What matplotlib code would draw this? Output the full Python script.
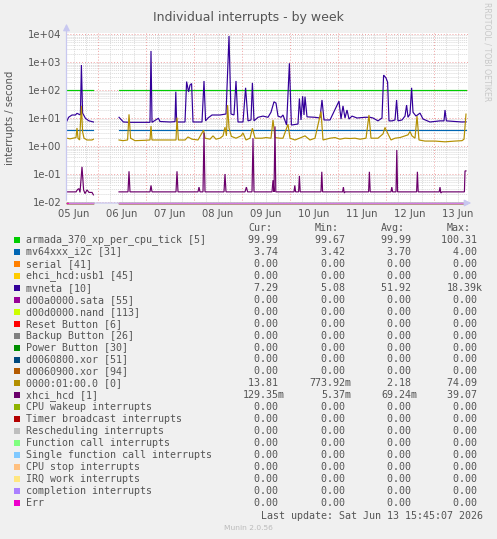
import numpy as np
import matplotlib
matplotlib.use('Agg')
import matplotlib.pyplot as plt
from matplotlib.patches import Rectangle

NaN = float('nan')

# ---------------- data (time in hours since 05 Jun 00:00) ----------------
title = "Individual interrupts - by week"
ylabel = "interrupts / second"
day_labels = ["05 Jun", "06 Jun", "07 Jun", "08 Jun", "09 Jun", "10 Jun", "11 Jun", "12 Jun", "13 Jun"]
ytick_labels = ["1e-02", "1e-01", "1e+00", "1e+01", "1e+02", "1e+03", "1e+04"]

flat_t = [8.5, 21.7, NaN, 34.5, 208.0]
armada_v = [99.99, 99.99, NaN, 99.99, 99.99]
i2c_v = [3.70, 3.70, NaN, 3.70, 3.70]
zero_v = [0.0, 0.0, NaN, 0.0, 0.0]

mvneta_t = [8.5, 9.3, 11, 12.7, 13.5, 15.2, 15.7, 16.3, 17.7, 19.3, 21.7, NaN,
            34.5, 36.7, 40, 45, 50, 50.5, 51, 54.2, 55, 60, 62.5, 62.9, 63.3, 67.5, 68.3, 69.3, 70,
            70.8, 71.5, 76, 77, 77.8, 79, 81, 85, 88, 89.5, 90.5, 92, 93, 94, 96.5, 97.8, 99,
            100.5, 101.2, 102, 104, 106.5, 109, 110.5, 112, 113, 114, 115.5, 116.5, 118.3, 119.7,
            120.7, 124, 124.7, 125.5, 126.3, 127, 127.5, 128.5, 132.5, 135, 136, 137, 140, 144.5,
            145.5, 146.5, 147.5, 148.5, 149.5, 151, 153.5, 157.5, 160, 161.5, 164, 166, 166.8,
            168, 168.8, 169.5, 171, 172.5, 173.3, 174, 176, 177.5, 178.3, 179, 180, 180.8, 181.5,
            183, 185, 186.5, 190, 195, 197, 197.5, 198.2, 202.5, 206, 208]
mvneta_v = [7.9, 10.6, 12.8, 12.8, 14.7, 12.8, 780, 15, 9.8, 8.0, 7.2, NaN,
            10.6, 7.2, 7.0, 7.0, 7.0, 2480, 7.0, 9.8, 7.5, 7.2, 7.4, 87, 7.2, 7.2, 200, 85, 150,
            170, 7.2, 7.2, 210, 7.9, 10, 12.8, 12.8, 13.9, 8500, 13.9, 12.8, 210, 7.2, 7.2, 120, 7.9,
            8.5, 180, 7.9, 10.6, 11.7, 10.6, 16.1, 38, 34, 11.7, 10.6, 12.8, 5.6, 900,
            5.6, 6.1, 50, 8.5, 60, 12.8, 58, 11, 10.6, 10, 44, 8.5, 8.5, 40,
            9.2, 27, 10, 19.3, 9.2, 11.7, 10, 10.6, 10.6, 10, 7.9, 10, 340,
            270, 190, 7.9, 7.9, 8.5, 44, 7.9, 8.5, 11.7, 29, 10.6, 13.9, 120, 16.1,
            11.7, 15, 9.2, 7.2, 7.9, 7.9, 19.3, 7.9, 7.5, 7.2, 7.3]

pcie_t = [8.5, 10, 11.5, 13, 13.5, 14, 14.8, 15.7, 16.3, 17, 18.5, 21, 21.7, NaN,
          34.5, 36.5, 38.8, 39.5, 40.3, 42.5, 47.5, 50, 50.5, 51, 55, 60, 63, 63.5, 64.2, 67.5,
          69, 71, 74, 76.8, 77.5, 80, 81.5, 83, 85, 86.5, 87.5, 88.2, 88.8, 89.5, 90.7, 93,
          95.5, 96.5, 98, 100, 101.2, 102.5, 106, 108, 110.5, 111.5, 112.5, 115, 116.5, 119,
          120, 122.5, 125.5, 127.5, 130, 132.5, 135.5, 136.5, 140, 142.5, 145, 147.5, 150,
          152.5, 155, 158, 159.5, 160.5, 164, 166.5, 167.5, 169, 170.5, 172.5, 175, 177.5,
          179, 180, 181, 182.5, 183.5, 184.5, 187.5, 192.5, 197.5, 202.5, 206, 207, 208]
pcie_v = [1.9, 1.8, 1.9, 2.0, 4.4, 1.9, 1.64, 27, 3.2, 1.9, 1.64, 1.64, 1.75, NaN,
          1.64, 1.55, 1.64, 13.5, 1.9, 1.55, 1.6, 1.64, 5.2, 1.64, 1.64, 1.64, 1.64, 10.3, 1.64, 1.64,
          2.1, 1.75, 1.64, 3.7, 1.9, 1.75, 2.3, 1.75, 1.9, 2.3, 4.7, 2.3, 29, 4.4, 2.2, 1.9,
          2.3, 2.9, 1.64, 1.9, 4.3, 1.9, 1.9, 2.0, 1.9, 8.5, 2.0, 1.9, 1.9, 6.0,
          1.9, 1.64, 2.0, 2.3, 1.64, 1.9, 17, 1.64, 1.9, 2.0, 1.75, 1.9, 1.85,
          1.9, 1.75, 1.9, 12.8, 1.9, 1.9, 2.7, 4.6, 2.7, 1.64, 1.9, 2.0, 2.3,
          2.5, 3.3, 2.3, 1.9, 11.7, 1.64, 1.5, 1.5, 1.41, 1.5, 1.55, 1.75, 13.8]

xhci_t = [8.5, 13, 13.8, 14.5, 15, 16, 16.8, 17.5, 18.5, 19.5, 21, 21.7, NaN,
          34.5, 39, 39.5, 40, 50, 50.5, 51, 63, 63.5, 64, 74, 74.5, 75, 76.5, 77, 77.5, 87,
          87.5, 88, 97.5, 98.2, 98.8, 101, 101.5, 102, 111, 111.5, 112, 112.5, 112.9, 113.5,
          122, 122.4, 122.8, 124.3, 124.7, 125.1, 135.5, 135.9, 136.3, 146.3, 146.7, 147.1,
          147.6, 159.3, 159.7, 160.1, 170.5, 170.9, 171.3, 173, 173.4, 173.8, 183.3, 183.7,
          184.1, 194.6, 195, 195.4, 196, 207.2, 207.5, 208]
xhci_v = [0.023, 0.023, 0.028, 0.030, 0.022, 0.18, 0.027, 0.020, 0.027, 0.022, 0.022, 0.018, NaN,
          0.023, 0.023, 0.125, 0.023, 0.023, 0.039, 0.023, 0.023, 0.125, 0.023, 0.023, 0.034, 0.023, 0.023, 3.0, 0.023, 0.023,
          0.10, 0.023, 0.023, 0.034, 0.023, 0.023, 1.9, 0.023, 0.023, 0.06, 0.023, 5.0, 0.023,
          0.023, 0.023, 0.039, 0.023, 0.023, 0.085, 0.023, 0.023, 0.12, 0.023, 0.023, 0.034,
          0.021, 0.023, 0.023, 0.12, 0.023, 0.023, 0.034, 0.023, 0.023, 0.72, 0.023, 0.023,
          0.12, 0.023, 0.023, 0.034, 0.021, 0.023, 0.023, 0.129, 0.129]

names = ["armada_370_xp_per_cpu_tick [5]", "mv64xxx_i2c [31]", "serial [41]", "ehci_hcd:usb1 [45]",
         "mvneta [10]", "d00a0000.sata [55]", "d00d0000.nand [113]", "Reset Button [6]",
         "Backup Button [26]", "Power Button [30]", "d0060800.xor [51]", "d0060900.xor [94]",
         "0000:01:00.0 [0]", "xhci_hcd [1]", "CPU wakeup interrupts", "Timer broadcast interrupts",
         "Rescheduling interrupts", "Function call interrupts", "Single function call interrupts",
         "CPU stop interrupts", "IRQ work interrupts", "completion interrupts", "Err"]
colors = ["#00CC00", "#0066B3", "#FF8000", "#FFCC00", "#330099", "#990099", "#CCFF00", "#FF0000",
          "#808080", "#008F00", "#00487D", "#B35A00", "#B38F00", "#6B006B", "#8FB300", "#B30000",
          "#BEBEBE", "#80FF80", "#80C9FF", "#FFC080", "#FFE680", "#AA80FF", "#EE00CC"]
zs = ["0.00 "] * 4
stats = [["99.99 ", "99.67 ", "99.99 ", "100.31 "],
         ["3.74 ", "3.42 ", "3.70 ", "4.00 "],
         zs, zs,
         ["7.29 ", "5.08 ", "51.92 ", "18.39k"],
         zs, zs, zs, zs, zs, zs, zs,
         ["13.81 ", "773.92m", "2.18 ", "74.09 "],
         ["129.35m", "5.37m", "69.24m", "39.07 "],
         zs, zs, zs, zs, zs, zs, zs, zs, zs]
last_update = "Last update: Sat Jun 13 15:45:07 2026"
version = "Munin 2.0.56"

# ---------------- figure ----------------
W, H = 497, 539
fig = plt.figure(figsize=(W / 100, H / 100), dpi=100, facecolor="#F0F0F0")


def fx(x):
    return x / W


def fy(y):
    return 1 - y / H


TXT = "#555555"
ax = fig.add_axes([fx(67), fy(203), 401 / W, 170 / H])
ax.set_facecolor("white")
ax.set_yscale("log")
ymin, ymax = 10 ** (-2 - 1 / 28), 10 ** (4 + 1 / 28)
ax.set_xlim(8.5, 209)
ax.set_ylim(ymin, ymax)
for s in ax.spines.values():
    s.set_visible(False)

# grid
for h in range(12, 209, 6):
    if h % 24 == 0:
        continue
    ax.axvline(h, color="#DADADA", lw=0.7, ls=(0, (1, 1)), zorder=0)
for d in range(-2, 4):
    for m in range(2, 10):
        ax.axhline(m * 10.0 ** d, color="#DADADA", lw=0.7, ls=(0, (1, 1)), zorder=0)
for h in range(24, 209, 24):
    ax.axvline(h, color="#F0A0A0", lw=0.7, ls=(0, (1, 2)), zorder=0.5)
for d in range(-2, 5):
    ax.axhline(10.0 ** d, color="#F0A0A0", lw=0.7, ls=(0, (1, 2)), zorder=0.5)

# series
series = {0: (flat_t, armada_v), 1: (flat_t, i2c_v), 4: (mvneta_t, mvneta_v),
          12: (pcie_t, pcie_v), 13: (xhci_t, xhci_v)}
lw = 0.85
for i in range(len(names)):
    t, v = series.get(i, (flat_t, zero_v))
    v = np.clip(np.array(v, dtype=float), ymin * 1.03, None)
    ax.plot(np.array(t, dtype=float), v, color=colors[i], lw=lw, zorder=2 + i * 0.01,
            solid_joinstyle="miter", clip_on=False)

# ticks
ax.set_xticks([12 + 24 * k for k in range(9)])
ax.set_xticklabels(day_labels)
ax.set_yticks([10.0 ** d for d in range(-2, 5)])
ax.set_yticklabels(ytick_labels)
ax.minorticks_off()
ax.tick_params(axis="both", length=0, labelsize=7.2, labelcolor=TXT)
ax.tick_params(axis="x", pad=4)
ax.tick_params(axis="y", pad=4)

# axis arrows
acol = "#C8C8F0"
fig.add_artist(matplotlib.patches.FancyArrowPatch((fx(66.5), fy(203)), (fx(66.5), fy(21)),
               transform=fig.transFigure, arrowstyle="-|>,head_length=4,head_width=2",
               color=acol, lw=0.9, mutation_scale=1))
fig.add_artist(matplotlib.patches.FancyArrowPatch((fx(66.5), fy(203)), (fx(474), fy(203)),
               transform=fig.transFigure, arrowstyle="-|>,head_length=4,head_width=2",
               color=acol, lw=0.9, mutation_scale=1))

# texts
fig.text(fx(248), fy(18), title, ha="center", va="center", fontsize=9, color=TXT)
fig.text(fx(10), fy(118), ylabel, ha="center", va="center", rotation=90, fontsize=7.2, color=TXT)
fig.text(fx(487), fy(52), "RRDTOOL / TOBI OETIKER", ha="center", va="center", rotation=270,
         fontsize=5.6, color="#C8C8C8")

mono = "DejaVu Sans Mono"
fs = 7.2
hdr_y = 228
for lab, xr in zip(["Cur:", "Min:", "Avg:", "Max:"], [272, 338.5, 404.5, 470.5]):
    fig.text(fx(xr), fy(hdr_y), lab, ha="right", va="center", family=mono, fontsize=fs, color=TXT)

row0, step = 240, 11.95
col_r = [284.5, 351, 417.2, 483]
for i, nm in enumerate(names):
    y = row0 + i * step
    fig.patches.append(Rectangle((fx(14), fy(y + 3)), 6 / W, 6 / H, transform=fig.transFigure,
                                 facecolor=colors[i], edgecolor="none"))
    fig.text(fx(26), fy(y), nm, ha="left", va="center", family=mono, fontsize=fs, color=TXT)
    for s, xr in zip(stats[i], col_r):
        fig.text(fx(xr), fy(y), s, ha="right", va="center", family=mono, fontsize=fs, color=TXT)

fig.text(fx(483), fy(516), last_update, ha="right", va="center", family=mono, fontsize=fs, color=TXT)
fig.text(fx(248), fy(528), version, ha="center", va="center", fontsize=5.4, color="#BBBBBB")

fig.savefig("out.png", dpi=100, facecolor=fig.get_facecolor())
